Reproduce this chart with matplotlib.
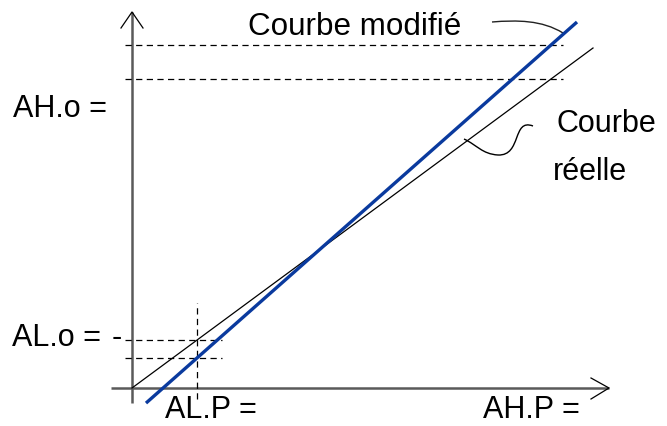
import numpy as np
import matplotlib
matplotlib.use("Agg")
import matplotlib.pyplot as plt
from matplotlib.path import Path
from matplotlib.patches import PathPatch

plt.rcParams['font.family'] = ['Liberation Sans', 'DejaVu Sans']

# Calibration points on the input axis (low / high)
AL_P = 65
AH_P = 419

# Real transfer curve: starts at the origin
real_x = [0, 461]
real_gain = 0.7375
real_y = [real_gain * v for v in real_x]

# Modified transfer curve (steeper gain, negative offset)
mod_x = [14, 445]
mod_low = 30    # output at AL_P
mod_high = 343  # output at AH_P

mod_gain = (mod_high - mod_low) / (AH_P - AL_P)
mod_y = [mod_low + mod_gain * (v - AL_P) for v in mod_x]

real_low = real_gain * AL_P
real_high = real_gain * AH_P

# Leader curves (cubic Bezier control points) pointing to each curve
leader_mod = [(360, 366), (385, 368), (410, 368), (431, 355)]
leader_real = [(401, 262), (380, 270), (390, 232), (366, 233),
               (350, 234), (345, 243), (332, 249)]

fig = plt.figure(figsize=(6.67, 4.26), dpi=100)
ax = fig.add_axes([0, 0, 1, 1])
ax.set_xlim(-132, 535)
ax.set_ylim(-38, 388)
ax.axis('off')

axis_col = '#5a5a5a'
# Axes with open arrowheads
ax.plot([0, 0], [-15, 376], color=axis_col, lw=1.8, solid_capstyle='butt')
ax.plot([-21, 477], [0, 0], color=axis_col, lw=1.8, solid_capstyle='butt')
ax.plot([-11, 0, 11], [360, 376, 360], color='black', lw=0.9)
ax.plot([459, 477, 459], [10, 0, -11], color='black', lw=0.9)

dash = dict(color='black', lw=0.9, linestyle=(0, (5, 3.5)))
# Low calibration guides
ax.plot([AL_P, AL_P], [-11, 85], **dash)
ax.plot([-7, 90], [real_low, real_low], **dash)
ax.plot([-7, 90], [mod_low, mod_low], **dash)
# High calibration guides
ax.plot([-7, 431], [mod_high, mod_high], **dash)
ax.plot([-7, 431], [real_high, real_high], **dash)

# Curves
ax.plot(real_x, real_y, color='black', lw=0.9)
ax.plot(mod_x, mod_y, color='#0a3a9e', lw=2.4, solid_capstyle='butt')

# Leader curves
p1 = Path(leader_mod, [Path.MOVETO, Path.CURVE4, Path.CURVE4, Path.CURVE4])
ax.add_patch(PathPatch(p1, fill=False, lw=1.0, edgecolor='#222222'))
p2 = Path(leader_real, [Path.MOVETO] + [Path.CURVE4] * 6)
ax.add_patch(PathPatch(p2, fill=False, lw=1.0, edgecolor='black'))

fs = 22
ax.text(116, 353, 'Courbe modifié', fontsize=22.6, va='baseline', ha='left')
ax.text(425, 256, 'Courbe', fontsize=fs, va='baseline', ha='left')
ax.text(421, 208, 'réelle', fontsize=fs, va='baseline', ha='left')
ax.text(-119, 271, 'AH.o =', fontsize=fs, va='baseline', ha='left')
ax.text(-120, 42, 'AL.o =', fontsize=fs, va='baseline', ha='left')
ax.text(-15, 42, '-', fontsize=fs, va='baseline', ha='center')
ax.text(33, -30, 'AL.P =', fontsize=fs, va='baseline', ha='left')
ax.text(351, -30, 'AH.P =', fontsize=fs, va='baseline', ha='left')

fig.savefig('out.png', dpi=100)
